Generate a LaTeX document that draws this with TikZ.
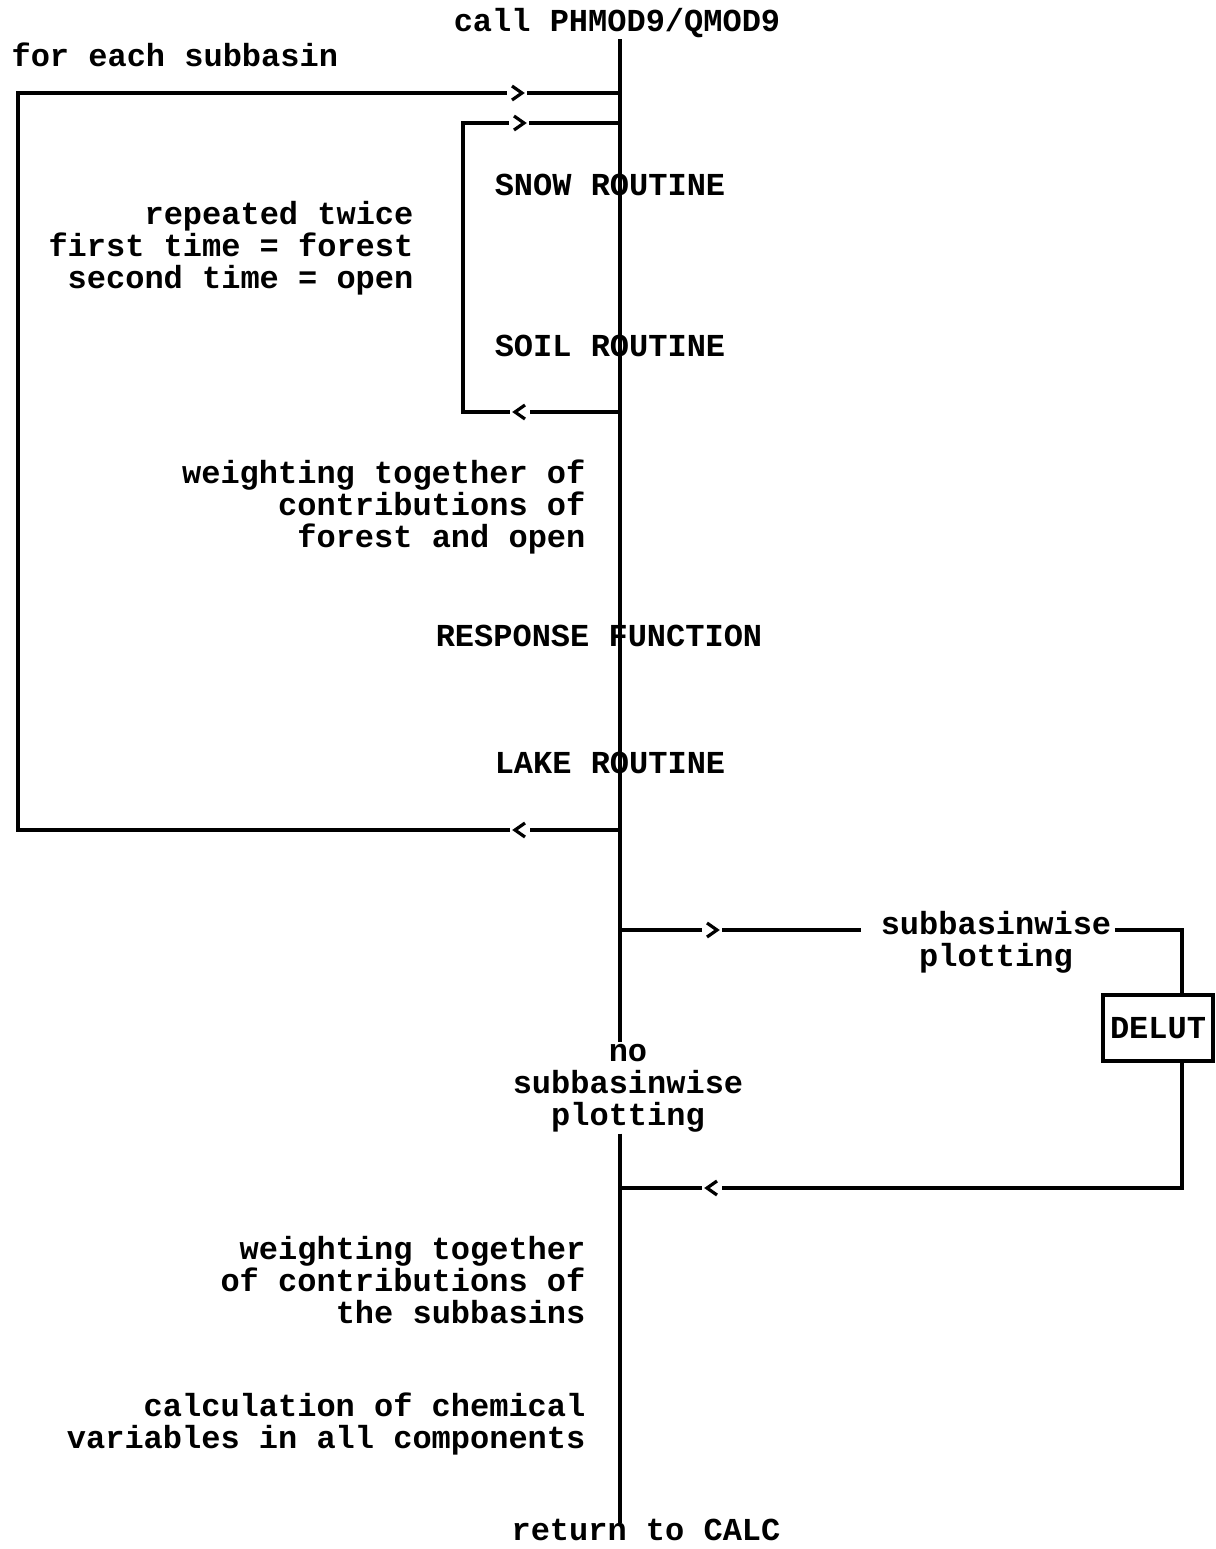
\documentclass[tikz,border=0pt]{standalone}
\usepackage{fontspec}
\setmonofont{Liberation Mono}
\begin{document}
\begin{tikzpicture}[x=0.5pt,y=-0.5pt,line width=1.6pt,
  lbl/.style={font=\ttfamily\bfseries\fontsize{16}{16}\selectfont,inner sep=0pt},
  boxnode/.style={lbl,draw,minimum width=55pt,minimum height=33pt},
  chevR/.pic={\fill[white] (-10,-9) rectangle (10,9);
              \draw[line width=1.6pt] (-5,-7) -- (5,0) -- (-5,7);},
  chevL/.pic={\fill[white] (-10,-9) rectangle (10,9);
              \draw[line width=1.6pt] (5,-7) -- (-5,0) -- (5,7);}]
\useasboundingbox (0,0) rectangle (1216,1549);

% text nodes
\node[lbl] (call) at (617,23) {call PHMOD9/QMOD9};
\node[lbl,anchor=west] (each) at (10,55) {for each subbasin};
\node[lbl] (snow) at (610,185) {SNOW ROUTINE};
\node[lbl,align=right,anchor=east] (rep) at (415,248) {repeated twice\\first time = forest\\second time = open};
\node[lbl] (soil) at (610,346) {SOIL ROUTINE};
\node[lbl,align=right,anchor=east] (wt1) at (587,507) {weighting together of\\contributions of\\forest and open};
\node[lbl] (resp) at (599,636) {RESPONSE FUNCTION};
\node[lbl] (lake) at (610,763) {LAKE ROUTINE};
\node[lbl,align=center] (sub) at (996,942) {subbasinwise\\plotting};
\node[boxnode] (delut) at (1158,1028) {DELUT};
\node[lbl,align=center] (nosub) at (628,1088) {no\\subbasinwise\\plotting};
\node[lbl,align=right,anchor=east] (wt2) at (587,1280) {weighting together\\of contributions of\\the subbasins};
\node[lbl,align=right,anchor=east] (chem) at (587,1424) {calculation of chemical\\variables in all components};
\node[lbl] (ret) at (646,1530) {return to CALC};

% coordinates
\coordinate (mx) at (620,0);
\coordinate (oT) at (620,93);
\coordinate (oTL) at (18,93);
\coordinate (oB) at (620,830);
\coordinate (oBL) at (18,830);
\coordinate (iT) at (620,123);
\coordinate (iTL) at (463,123);
\coordinate (iB) at (620,412);
\coordinate (iBL) at (463,412);
\coordinate (bA) at (620,930);
\coordinate (rx) at (1182,930);
\coordinate (bB) at (620,1188);
\coordinate (mEnd) at (620,1523);

% main line
\draw (call.south -| mx) -- (nosub.north -| mx);
\draw (nosub.south -| mx) -- (mEnd);

% outer loop
\draw (oB) -- (oBL) -- (oTL) -- (oT);
% inner loop
\draw (iB) -- (iBL) -- (iTL) -- (iT);
% branch
\draw (bA) -- ([xshift=-9pt]sub.west |- bA);
\draw ([xshift=1pt]sub.east |- bA) -- (rx) -- (rx |- delut.north);
\draw (rx |- delut.south) -- (rx |- bB) -- (bB);

% chevrons
\pic at (517,93) {chevR};
\pic at (519,123) {chevR};
\pic at (520,412) {chevL};
\pic at (520,830) {chevL};
\pic at (712,930) {chevR};
\pic at (712,1188) {chevL};
\end{tikzpicture}
\end{document}
